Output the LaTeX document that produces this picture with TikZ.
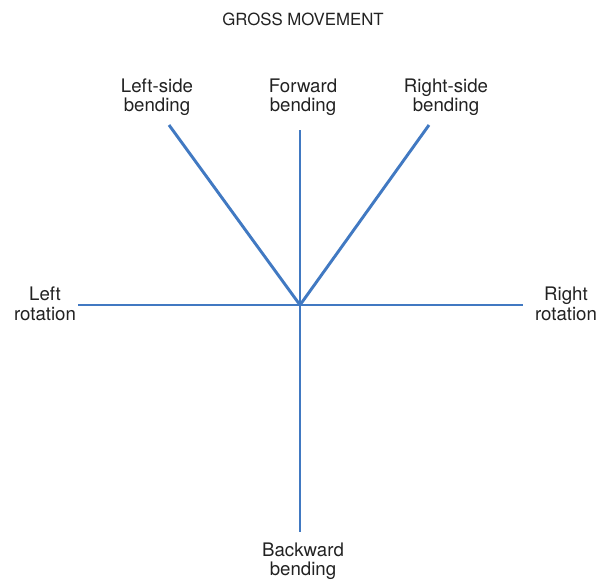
\documentclass[tikz,border=0pt]{standalone}
\usepackage{fontspec}
\setmainfont{TeX Gyre Heros}
\definecolor{axisblue}{HTML}{4179C2}
\definecolor{labelgray}{HTML}{222222}
\begin{document}
\begin{tikzpicture}[x=0.75pt,y=-0.75pt]
	\tikzstyle{axis}=[draw=axisblue, line width=2.2pt]
	\tikzstyle{label}=[text=labelgray, align=center, font=\fontsize{14}{14.6}\selectfont, inner sep=0pt]
	\useasboundingbox (0,0) rectangle (598,585);
	\begin{scope}
		% centre and free ends of the axes
		\coordinate (o) at (300,305);
		\coordinate (lsb) at (169,125);
		\coordinate (fb) at (300,130);
		\coordinate (rsb) at (429,125);
		\coordinate (lr) at (78,305);
		\coordinate (rr) at (523,305);
		\coordinate (bb) at (300,532);
		% labels
		\node [label, font=\fontsize{12.6}{14}\selectfont] (title) at (303,19) {GROSS MOVEMENT};
		\node [label] (lsbtext) at (157,97) {Left-side\\bending};
		\node [label] (fbtext) at (303,97) {Forward\\bending};
		\node [label] (rsbtext) at (446,97) {Right-side\\bending};
		\node [label] (lrtext) at (45,304) {Left\\rotation};
		\node [label] (rrtext) at (566,304) {Right\\rotation};
		\node [label] (bbtext) at (303,561) {Backward\\bending};
		% axes
		\path[axis] (o) -- (lsb);
		\path[axis] (o) -- (rsb);
		\path[axis] (fb) -- (bb);
		\path[axis] (lr) -- (rr);
	\end{scope}
\end{tikzpicture}
\end{document}
